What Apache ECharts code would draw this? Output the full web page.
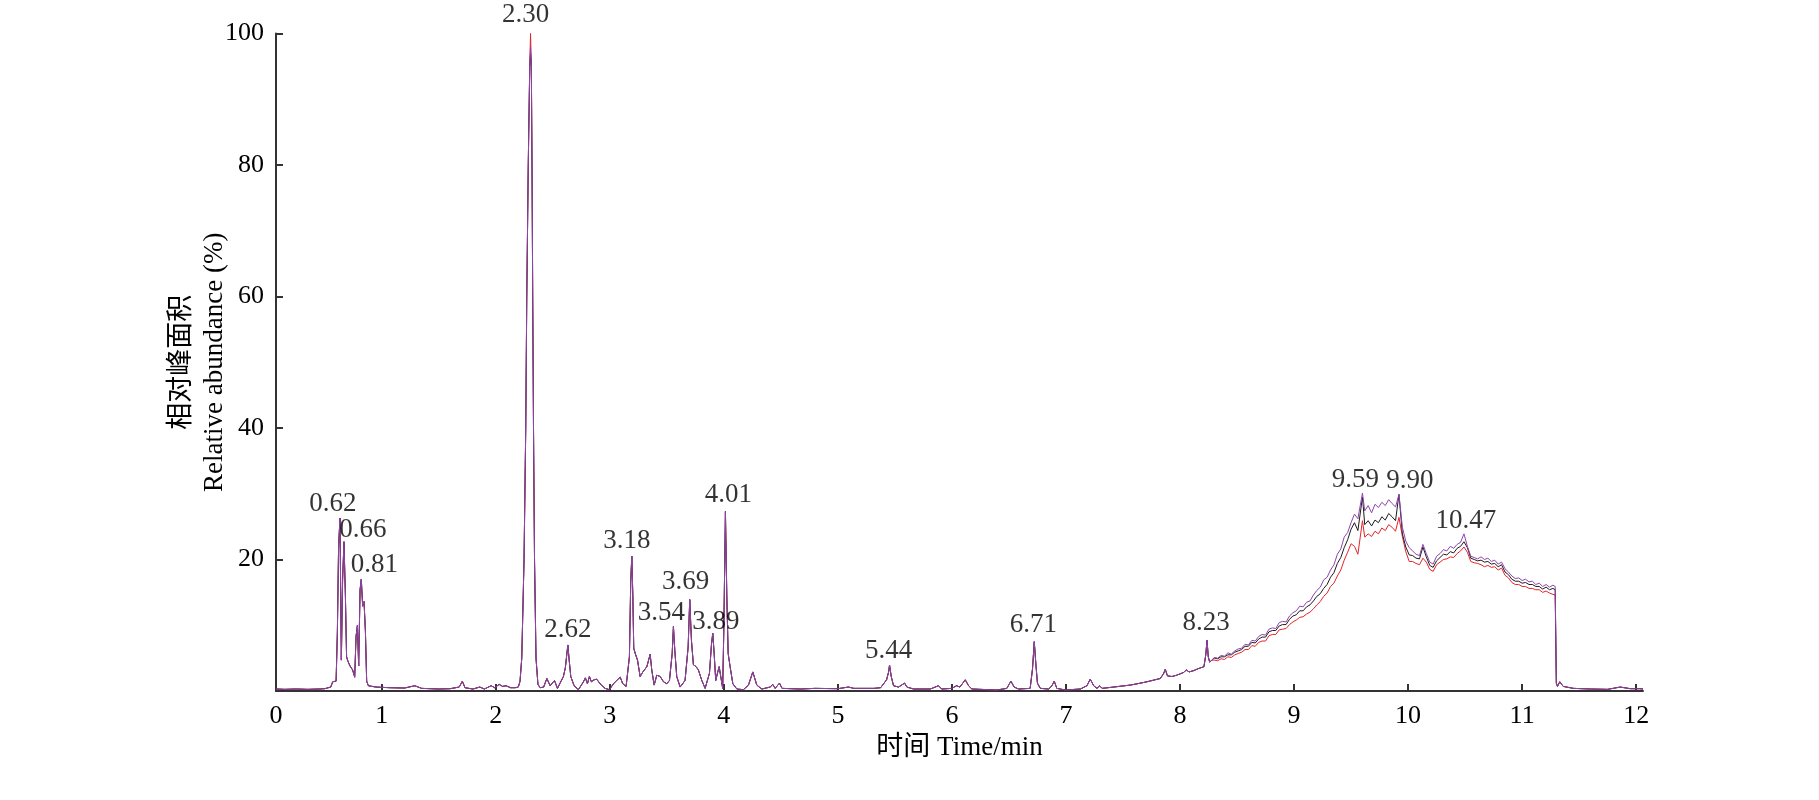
<!DOCTYPE html>
<html>
<head>
<meta charset="utf-8">
<script src="https://cdn.jsdelivr.net/npm/echarts@6/dist/echarts.min.js"></script>
<style>
html,body{margin:0;padding:0;background:#ffffff;}
#c{width:1819px;height:800px;}
</style>
</head>
<body>
<div id="c"></div>
<script>
// ---------- DATA ----------
// shared part of the three chromatograms, [time (min), relative abundance (%)]
const earlyTrace = [
  [0.073,0.3],[0.15,0.25],[0.25,0.3],[0.35,0.25],[0.45,0.3],[0.50,0.35],[0.553,0.6],[0.57,1.4],[0.60,1.5],
  [0.611,8.8],[0.622,22],[0.634,26.3],[0.646,4.7],[0.657,16.9],[0.669,22.7],[0.681,15],[0.692,5.2],
  [0.704,4.5],[0.722,3.8],[0.745,3.2],[0.763,2.1],[0.775,8.3],[0.787,10],[0.798,3.8],[0.81,15.4],
  [0.821,17.0],[0.833,12.9],[0.845,13.6],[0.857,9.1],[0.868,1.5],[0.883,0.8],[0.95,0.6],[1.07,0.5],
  [1.2,0.45],[1.29,0.8],[1.35,0.4],[1.5,0.3],[1.6,0.35],[1.68,0.6],[1.707,1.5],[1.73,0.5],[1.8,0.3],
  [1.86,0.6],[1.9,0.3],[1.96,0.8],[1.99,0.5],[2.03,1.0],[2.06,0.7],[2.09,0.8],[2.13,0.5],[2.17,0.5],
  [2.198,0.6],[2.213,1.5],[2.228,5],[2.248,20],[2.263,40],[2.272,60],[2.285,80],[2.298,95],[2.305,100],
  [2.312,95],[2.318,80],[2.324,60],[2.331,40],[2.340,20],[2.353,5],[2.37,1.0],[2.389,0.5],[2.42,0.6],
  [2.448,1.9],[2.477,0.8],[2.515,1.6],[2.541,0.4],[2.593,2.2],[2.61,3.5],[2.632,7.0],[2.645,4.5],
  [2.658,2.2],[2.687,0.8],[2.725,0.2],[2.769,1.4],[2.786,2.0],[2.804,1.1],[2.821,2.2],[2.839,1.4],
  [2.862,1.7],[2.885,1.8],[2.915,1.1],[2.958,0.4],[2.997,0.2],[3.032,1.1],[3.061,1.6],[3.091,2.1],
  [3.114,1.1],[3.143,0.7],[3.172,5.2],[3.184,16.9],[3.193,20.5],[3.202,14.5],[3.21,6.5],[3.225,5.6],
  [3.243,4.7],[3.266,2.2],[3.29,2.9],[3.325,3.7],[3.354,5.6],[3.368,3.2],[3.389,0.9],[3.412,2.4],
  [3.442,2.2],[3.471,1.4],[3.5,1.1],[3.523,1.6],[3.547,5.7],[3.558,9.8],[3.57,6.2],[3.587,2.2],
  [3.617,0.6],[3.66,1.6],[3.687,6.7],[3.701,13.9],[3.716,7.7],[3.733,4.0],[3.757,3.7],[3.777,3.2],
  [3.807,1.6],[3.836,0.4],[3.874,2.7],[3.892,7.2],[3.903,8.8],[3.915,5.7],[3.929,1.6],[3.944,2.7],
  [3.959,3.7],[3.973,2.2],[3.99,0.4],[4.0,9.5],[4.014,27.3],[4.026,14.5],[4.038,5.7],[4.055,3.7],
  [4.079,1.1],[4.114,0.3],[4.172,0.2],[4.216,0.9],[4.254,2.9],[4.289,0.9],[4.333,0.3],[4.406,0.6],
  [4.43,1.0],[4.45,0.4],[4.488,1.2],[4.51,0.4],[4.67,0.3],[4.8,0.4],[5.0,0.35],[5.093,0.6],[5.14,0.4],
  [5.316,0.4],[5.375,0.5],[5.427,1.7],[5.445,2.9],[5.453,3.95],[5.468,2.2],[5.488,0.8],[5.532,0.6],
  [5.585,1.2],[5.605,0.6],[5.664,0.3],[5.81,0.3],[5.883,0.8],[5.91,0.3],[6.0,0.4],[6.04,0.8],[6.07,0.6],
  [6.117,1.7],[6.146,0.8],[6.175,0.3],[6.394,0.15],[6.482,0.4],[6.517,1.5],[6.546,0.6],[6.584,0.3],
  [6.686,0.4],[6.707,3.4],[6.722,7.5],[6.737,3.9],[6.75,1.2],[6.775,0.4],[6.848,0.3],[6.877,0.8],
  [6.897,1.5],[6.92,0.4],[6.994,0.15],[7.126,0.3],[7.184,0.8],[7.213,1.8],[7.243,0.8],[7.272,0.4],
  [7.296,0.8],[7.316,0.4],[7.418,0.6],[7.49,0.75],[7.564,0.9],[7.64,1.15],[7.71,1.4],[7.78,1.7],
  [7.827,1.9],[7.855,2.6],[7.871,3.3],[7.89,2.3],[7.93,2.2],[7.97,2.4],[8.0,2.6],[8.03,2.8],[8.056,3.2],
  [8.08,2.9],[8.12,3.1],[8.16,3.4],[8.21,3.7],[8.226,5.5],[8.237,7.7],[8.248,5.2],[8.26,4.4],[8.28,4.7]
];

// apex of the 2.30 min peak for each trace (red, black, purple)
const apexTime = 2.305;
const apexValues = [100, 97, 98];

// late hump where the three traces separate
const humpTime = [
  8.30,8.33,8.36,8.39,8.42,8.45,8.48,8.51,8.54,8.57,
  8.60,8.63,8.66,8.69,8.72,8.75,8.78,8.81,8.84,8.87,
  8.90,8.93,8.96,8.99,9.02,9.05,9.08,9.11,9.14,9.17,
  9.20,9.23,9.26,9.29,9.32,9.35,9.38,9.41,9.44,9.47,
  9.50,9.53,9.56,9.60,9.62,9.65,9.68,9.71,9.74,9.77,
  9.80,9.83,9.86,9.89,9.92,9.95,9.98,10.01,10.04,10.07,
  10.10,10.13,10.16,10.19,10.22,10.25,10.28,10.31,10.34,10.37,
  10.40,10.43,10.46,10.49,10.52,10.55,10.58,10.61,10.64,10.67,
  10.70,10.73,10.76,10.79,10.82,10.85,10.88,10.91,10.94,10.97,
  11.00,11.03,11.06,11.09,11.12,11.15,11.18,11.21,11.24,11.27,
  11.29
];
const humpRed = [
  4.7,4.6,4.9,4.8,5.2,5.1,5.5,5.7,5.9,6.3,
  6.3,6.9,6.8,7.4,7.6,7.6,8.4,8.6,8.6,9.3,
  9.4,9.5,10.1,10.5,10.8,11.2,11.3,11.7,12.0,12.5,
  13.1,13.6,14.4,14.9,15.9,16.4,17.5,18.4,19.9,21.1,
  22.4,22.0,20.8,25.9,23.4,23.9,23.5,24.3,23.9,24.8,
  24.4,25.3,24.9,24.3,26.4,23.5,21.2,19.7,19.7,19.4,
  19.2,20.2,19.6,18.5,18.2,19.2,19.6,20.0,20.1,20.4,
  20.3,20.9,21.3,21.9,21.1,19.7,19.5,19.4,19.2,18.9,
  19.1,18.8,18.9,18.4,18.7,17.6,17.2,16.5,16.2,16.2,
  15.9,15.9,15.6,15.6,15.4,15.4,15.0,15.2,14.9,14.7,
  14.6
];
const humpBlack = [
  5.0,4.9,5.2,5.2,5.5,5.5,5.9,6.1,6.3,6.8,
  6.8,7.4,7.3,7.9,8.2,8.2,9.0,9.2,9.2,9.9,
  10.1,10.1,10.9,11.4,11.6,12.2,12.2,12.8,13.1,13.7,
  14.4,14.8,15.6,16.2,17.3,18.0,19.4,20.3,21.8,23.0,
  24.6,25.6,24.4,29.5,25.3,25.9,25.1,26.0,25.6,26.5,
  26.0,27.0,26.5,25.9,29.9,23.9,21.9,20.7,20.6,20.2,
  20.1,21.9,20.4,19.1,18.8,19.8,20.3,20.8,20.7,21.2,
  21.0,21.7,22.0,22.7,21.8,20.2,20.0,19.8,19.9,19.6,
  19.7,19.3,19.4,18.9,19.2,18.1,17.7,17.0,16.7,16.7,
  16.4,16.5,16.2,16.2,15.9,15.9,15.5,15.8,15.4,15.6,
  15.4
];
const humpPurple = [
  5.1,5.0,5.4,5.3,5.8,5.6,6.1,6.4,6.5,7.1,
  7.0,7.7,7.6,8.3,8.6,8.5,9.4,9.6,9.5,10.4,
  10.6,10.5,11.4,11.9,12.2,12.9,12.8,13.5,13.7,14.6,
  15.3,15.8,16.9,17.3,18.4,19.2,20.8,21.6,23.4,24.1,
  25.6,26.9,26.2,30.1,27.4,28.2,27.1,28.4,27.9,28.7,
  28.2,29.1,28.5,28.0,29.9,24.9,22.8,21.8,21.3,20.8,
  20.6,22.3,20.9,19.6,19.3,20.5,20.9,21.5,21.3,22.0,
  21.7,22.3,22.6,23.9,22.0,20.5,20.3,20.1,20.4,20.0,
  20.2,19.7,19.9,19.3,19.6,18.6,18.1,17.5,17.1,17.2,
  16.8,17.0,16.6,16.7,16.2,16.4,15.9,16.2,15.8,16.1,
  15.9
];

// shared tail after the sharp drop
const tailTrace = [
  [11.30,1.2],[11.31,0.7],[11.33,1.4],[11.36,0.7],[11.45,0.4],[11.6,0.3],
  [11.75,0.25],[11.86,0.6],[11.95,0.35],[12.03,0.35],[12.06,0.3]
];

// peak annotations
const peakLabelText   = ['0.62','0.66','0.81','2.30','2.62','3.18','3.54','3.69','3.89','4.01','5.44','6.71','8.23','9.59','9.90','10.47'];
const peakLabelTime   = [0.634,0.669,0.821,2.305,2.632,3.193,3.558,3.701,3.903,4.014,5.453,6.722,8.237,9.60,9.92,10.49];
const peakLabelHeight = [26.3,22.7,17.0,100,7.0,20.5,9.8,13.9,8.8,27.3,3.95,7.5,7.7,30.1,29.9,23.9];

// axis ticks
const xAxisMin = 0.073;
const xAxisMax = 12.06;
const xTickValues = [1,2,3,4,5,6,7,8,9,10,11,12];
const yTickValues = [0,20,40,60,80,100];

// ---------- STYLES ----------
const serif = "'Liberation Serif','Times New Roman','Noto Sans CJK SC',serif";
const peakLabelOffset = [[-7,-1],[19,2],[13,-1],[-5,-5],[0,-2],[-5,-2],[-12,0],[-4,-4],[3,2],[3,-3],[-1,-1],[-1,-3],[-1,-4],[-7,0],[11,0],[2,1]];
const seriesNames = ['red','black','purple'];
const seriesColors = ['#e3242b','#1c1c1c','#8e44ad'];
const humpSets = [humpRed, humpBlack, humpPurple];

function buildTrace(idx) {
  const pts = earlyTrace.map(p => [p[0], p[0] === apexTime ? apexValues[idx] : p[1]]);
  humpTime.forEach((t, i) => pts.push([t, humpSets[idx][i]]));
  tailTrace.forEach(p => pts.push([p[0], p[1]]));
  return pts;
}

const lineSeries = seriesNames.map((n, i) => ({
  name: n,
  type: 'line',
  data: buildTrace(i),
  showSymbol: false,
  symbol: 'none',
  sampling: null,
  animation: false,
  lineStyle: { color: seriesColors[i], width: 1 },
  itemStyle: { color: seriesColors[i] },
  z: 2 + i
}));

const labelSeries = {
  type: 'scatter',
  symbolSize: 0,
  silent: true,
  animation: false,
  z: 10,
  data: peakLabelText.map((s, i) => ({
    name: s,
    value: [peakLabelTime[i], peakLabelHeight[i]],
    label: { offset: peakLabelOffset[i] }
  })),
  label: {
    show: true,
    position: 'top',
    distance: 0,
    formatter: '{b}',
    color: '#000',
    fontSize: 27,
    fontFamily: serif
  }
};

const chart = echarts.init(document.getElementById('c'), null, { renderer: 'canvas' });
chart.setOption({
  backgroundColor: '#ffffff',
  animation: false,
  grid: { left: 276, right: 176, top: 33.5, bottom: 109, containLabel: false },
  xAxis: {
    type: 'value',
    min: xAxisMin,
    max: xAxisMax,
    axisLine: { show: true, lineStyle: { color: '#333', width: 2 } },
    axisTick: { show: true, inside: true, length: 7, customValues: xTickValues, lineStyle: { color: '#333', width: 2 } },
    axisLabel: {
      customValues: [xAxisMin].concat(xTickValues),
      formatter: v => String(Math.round(v)),
      margin: 12, color: '#000', fontSize: 26, fontFamily: serif
    },
    splitLine: { show: false },
    name: '时间 Time/min',
    nameLocation: 'middle',
    nameGap: 43,
    nameMoveOverlap: false,
    nameTextStyle: { color: '#000', fontSize: 27, fontFamily: serif }
  },
  yAxis: {
    type: 'value',
    min: 0,
    max: 100,
    interval: 20,
    axisLine: { show: true, lineStyle: { color: '#333', width: 2 } },
    axisTick: { show: true, inside: true, length: 7, lineStyle: { color: '#333', width: 2 } },
    axisLabel: {
      formatter: v => (v === yTickValues[0] ? '' : String(v)),
      margin: 12, color: '#000', fontSize: 26, fontFamily: serif
    },
    splitLine: { show: false },
    name: '相对峰面积\nRelative abundance (%)',
    nameLocation: 'middle',
    nameRotate: 90,
    nameGap: 45,
    nameMoveOverlap: false,
    nameTextStyle: { color: '#000', fontSize: 27, lineHeight: 33, fontFamily: serif }
  },
  series: lineSeries.concat([labelSeries])
});
</script>
</body>
</html>
